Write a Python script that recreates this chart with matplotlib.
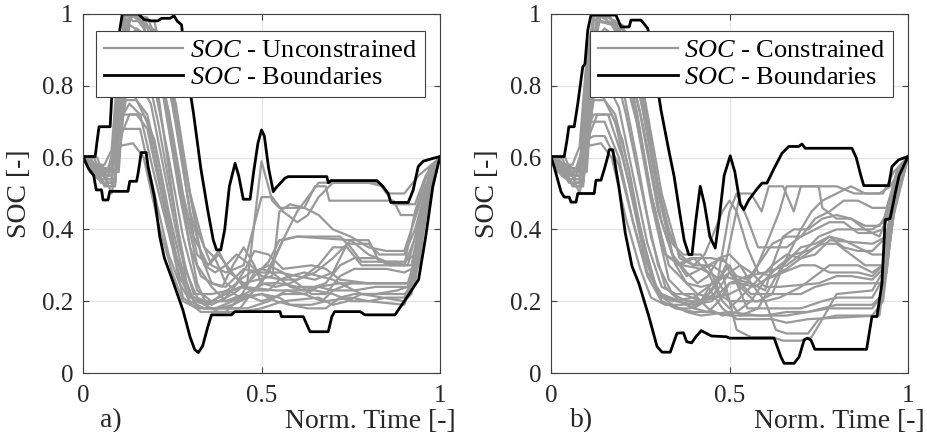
import matplotlib
matplotlib.use("Agg")
import matplotlib.pyplot as plt
from matplotlib.lines import Line2D

plt.rcParams['font.family'] = ['Liberation Serif', 'DejaVu Serif']
plt.rcParams['mathtext.fontset'] = 'custom'
plt.rcParams['mathtext.it'] = 'Liberation Serif:italic'
plt.rcParams['mathtext.rm'] = 'Liberation Serif'

GRAY = '#999999'
BLACK = '#000000'

# ---- panel a) : unconstrained ----
upper_a = [(0, .603), (.034, .603), (.04, .65), (.045, .686), (.076, .686), (.08, .76), (.09, .85), (.103, .955),
           (.11, 1.0), (.155, 1.0), (.17, .985), (.192, .981), (.21, .981), (.22, .988), (.244, .988), (.255, .995),
           (.264, .98), (.276, .97), (.29, .85), (.31, .72), (.33, .57), (.35, .45), (.365, .37), (.374, .343),
           (.386, .343), (.397, .4), (.41, .52), (.426, .584), (.436, .55), (.449, .484), (.468, .484), (.478, .56),
           (.49, .64), (.5, .677), (.508, .66), (.52, .57), (.533, .505), (.54, .515), (.566, .543), (.575, .547),
           (.683, .547), (.687, .53), (.695, .536), (.823, .536), (.84, .52), (.855, .5), (.862, .475), (.911, .475),
           (.925, .51), (.939, .575), (.953, .59), (.981, .598), (1.0, .603)]
lower_a = [(0, .603), (.015, .57), (.03, .55), (.037, .51), (.052, .51), (.056, .482), (.07, .482), (.075, .506),
           (.126, .506), (.131, .534), (.15, .534), (.155, .56), (.163, .614), (.177, .614), (.182, .575),
           (.2, .491), (.215, .38), (.228, .32), (.252, .255), (.28, .175), (.3, .1), (.313, .065), (.323, .057),
           (.335, .075), (.35, .13), (.36, .162), (.416, .162), (.425, .171), (.552, .171), (.556, .157),
           (.617, .157), (.636, .115), (.687, .115), (.697, .157), (.705, .171), (.776, .171), (.79, .162),
           (.874, .162), (.9, .2), (.92, .23), (.94, .26), (.96, .38), (.98, .52), (1.0, .603)]
soc_unconstrained = [
    [(0, .6), (.02, .58), (.05, .58), (.06, .56), (.08, .56), (.1, .78), (.115, 1.0), (.15, 1.0), (.17, .97), (.2, .85),
     (.25, .5), (.29, .25), (.31, .2), (.38, .2), (.42, .22), (.46, .25), (.5, .59), (.53, .48), (.55, .46), (.62, .46),
     (.65, .52), (.68, .52), (.69, .48), (.87, .48), (.89, .44), (.93, .44), (.96, .52), (1, .6)],
    [(0, .6), (.03, .56), (.06, .53), (.09, .53), (.1, .66), (.12, .95), (.14, 1.0), (.17, .96), (.22, .8), (.27, .5),
     (.32, .25), (.35, .18), (.44, .18), (.47, .22), (.5, .25), (.55, .35), (.6, .45), (.66, .53), (.83, .53),
     (.85, .5), (.9, .5), (.94, .55), (1, .6)],
    [(0, .6), (.02, .57), (.05, .55), (.08, .55), (.1, .7), (.13, .75), (.16, .72), (.2, .55), (.25, .35), (.28, .21),
     (.33, .17), (.4, .17), (.43, .2), (.47, .22), (.52, .28), (.56, .37), (.6, .38), (.72, .38), (.75, .35),
     (.78, .31), (.88, .31), (.9, .3), (.93, .45), (.97, .57), (1, .6)],
    [(0, .6), (.04, .6), (.06, .54), (.09, .54), (.11, .8), (.13, .97), (.16, .95), (.2, .9), (.24, .7), (.3, .35),
     (.33, .27), (.36, .25), (.4, .24), (.45, .29), (.5, .28), (.55, .28), (.6, .27), (.65, .26), (.7, .28),
     (.74, .36), (.8, .36), (.83, .33), (.9, .33), (.93, .4), (.98, .58), (1, .6)],
    [(0, .6), (.02, .59), (.05, .57), (.08, .57), (.1, .72), (.15, .72), (.18, .68), (.23, .45), (.27, .27),
     (.3, .21), (.35, .2), (.4, .2), (.45, .22), (.5, .2), (.56, .22), (.62, .22), (.66, .24), (.72, .25), (.91, .25),
     (.94, .35), (.97, .55), (1, .6)],
    [(0, .6), (.03, .55), (.07, .52), (.09, .52), (.11, .85), (.13, 1.0), (.18, .99), (.22, .9), (.26, .7),
     (.31, .38), (.35, .3), (.38, .33), (.41, .29), (.45, .24), (.54, .23), (.65, .23), (.7, .22), (.75, .2),
     (.8, .2), (.85, .21), (.9, .21), (.94, .3), (.97, .5), (1, .6)],
    [(0, .6), (.02, .58), (.04, .56), (.07, .56), (.09, .65), (.11, .68), (.16, .68), (.2, .5), (.24, .33),
     (.27, .25), (.3, .2), (.34, .18), (.38, .18), (.42, .19), (.46, .21), (.5, .22), (.54, .2), (.58, .19),
     (.64, .19), (.68, .2), (.75, .21), (.8, .2), (.9, .19), (.93, .27), (.96, .5), (1, .6)],
    [(0, .6), (.03, .58), (.06, .58), (.08, .62), (.1, .88), (.12, 1.0), (.14, .98), (.2, .98), (.25, .75),
     (.3, .45), (.34, .3), (.37, .28), (.4, .3), (.43, .33), (.47, .3), (.5, .27), (.56, .26), (.6, .26), (.65, .28),
     (.7, .32), (.75, .37), (.8, .37), (.83, .31), (.91, .3), (.94, .42), (.98, .58), (1, .6)],
    [(0, .6), (.02, .57), (.05, .57), (.07, .53), (.09, .53), (.1, .76), (.13, .9), (.17, .88), (.21, .7),
     (.25, .48), (.29, .28), (.32, .21), (.36, .19), (.4, .21), (.44, .26), (.47, .28), (.5, .29), (.53, .28),
     (.58, .24), (.62, .23), (.68, .25), (.72, .3), (.76, .32), (.82, .32), (.86, .3), (.92, .3), (.95, .45),
     (.98, .58), (1, .6)],
    [(0, .6), (.04, .57), (.07, .55), (.09, .6), (.11, .9), (.13, 1.0), (.16, .98), (.21, .95), (.26, .75),
     (.3, .5), (.34, .35), (.37, .32), (.4, .25), (.43, .23), (.47, .26), (.5, .29), (.52, .31), (.55, .37),
     (.6, .38), (.75, .37), (.8, .33), (.85, .31), (.9, .31), (.93, .33), (.96, .52), (1, .6)],
    [(0, .6), (.02, .56), (.05, .54), (.08, .54), (.1, .7), (.12, .8), (.15, .82), (.19, .75), (.23, .55),
     (.27, .35), (.31, .22), (.36, .22), (.41, .23), (.44, .21), (.5, .22), (.55, .21), (.58, .19), (.63, .18),
     (.68, .18), (.72, .21), (.76, .22), (.82, .22), (.88, .23), (.91, .24), (.93, .3), (.97, .55), (1, .6)],
    [(0, .6), (.03, .6), (.05, .56), (.09, .56), (.11, .75), (.14, .95), (.17, .92), (.23, .78), (.28, .48),
     (.32, .3), (.36, .24), (.4, .2), (.44, .21), (.48, .28), (.52, .3), (.56, .28), (.6, .25), (.64, .22),
     (.68, .22), (.72, .27), (.76, .29), (.85, .29), (.9, .28), (.94, .3), (.97, .52), (1, .6)],
    [(0, .6), (.02, .58), (.06, .55), (.08, .55), (.1, .66), (.12, .76), (.15, .76), (.18, .72), (.22, .55),
     (.26, .33), (.3, .19), (.34, .18), (.46, .18), (.52, .2), (.57, .23), (.62, .22), (.67, .2), (.7, .23),
     (.75, .25), (.92, .25), (.95, .45), (1, .6)],
    [(0, .6), (.03, .57), (.05, .53), (.08, .53), (.1, .8), (.12, .98), (.14, 1.0), (.18, .96), (.24, .82),
     (.29, .55), (.33, .33), (.36, .25), (.39, .24), (.42, .3), (.45, .35), (.48, .3), (.5, .25), (.54, .24),
     (.58, .25), (.62, .27), (.66, .3), (.7, .35), (.74, .35), (.78, .3), (.9, .3), (.94, .4), (.98, .58), (1, .6)],
    [(0, .6), (.02, .6), (.04, .57), (.07, .57), (.09, .63), (.14, .64), (.17, .6), (.21, .42), (.25, .28),
     (.28, .2), (.32, .18), (.37, .18), (.42, .2), (.47, .23), (.51, .25), (.55, .25), (.6, .24), (.66, .24),
     (.7, .23), (.76, .23), (.82, .24), (.91, .24), (.94, .36), (.97, .56), (1, .6)],
    [(0, .6), (.03, .58), (.05, .58), (.07, .56), (.1, .56), (.11, .7), (.13, .86), (.16, .86), (.2, .8),
     (.24, .6), (.28, .38), (.32, .23), (.36, .2), (.4, .22), (.44, .24), (.48, .23), (.52, .23), (.55, .26),
     (.58, .27), (.62, .28), (.66, .27), (.7, .26), (.74, .24), (.78, .22), (.84, .21), (.9, .2), (.92, .22),
     (.95, .4), (1, .6)],
    [(0, .6), (.02, .57), (.04, .57), (.06, .52), (.08, .52), (.1, .74), (.12, .92), (.15, .96), (.19, .93),
     (.24, .73), (.28, .5), (.32, .33), (.35, .3), (.38, .34), (.41, .28), (.45, .25), (.49, .26), (.53, .27),
     (.55, .45), (.58, .47), (.62, .46), (.66, .44), (.7, .4), (.75, .38), (.8, .35), (.85, .34), (.9, .34),
     (.94, .46), (.98, .58), (1, .6)],
    [(0, .6), (.04, .58), (.07, .54), (.09, .54), (.11, .67), (.13, .72), (.17, .72), (.2, .65), (.24, .45),
     (.28, .28), (.31, .2), (.35, .19), (.39, .22), (.43, .25), (.46, .3), (.48, .34), (.52, .33), (.56, .29),
     (.64, .3), (.68, .29), (.72, .26), (.8, .25), (.92, .25), (.96, .5), (1, .6)],
    [(0, .6), (.02, .59), (.05, .56), (.08, .56), (.1, .84), (.12, 1.0), (.16, 1.0), (.2, .94), (.24, .86),
     (.28, .6), (.32, .4), (.36, .3), (.4, .28), (.45, .3), (.5, .49), (.53, .49), (.56, .45), (.6, .42),
     (.63, .44), (.66, .49), (.7, .53), (.8, .53), (.84, .52), (.87, .47), (.93, .47), (.96, .55), (1, .6)],
    [(0, .6), (.03, .55), (.06, .55), (.08, .5), (.1, .6), (.12, .78), (.14, .78), (.18, .7), (.22, .52),
     (.26, .33), (.3, .22), (.34, .19), (.38, .17), (.44, .17), (.5, .18), (.56, .2), (.66, .21), (.7, .19),
     (.74, .2), (.78, .22), (.9, .22), (.93, .25), (.96, .45), (1, .6)],
]

# ---- panel b) : constrained ----
upper_b = [(0, .603), (.037, .603), (.045, .65), (.05, .686), (.065, .686), (.075, .75), (.089, .853), (.095, .86),
           (.103, .955), (.112, .997), (.182, .997), (.196, .964), (.219, .964), (.224, .983), (.252, .983),
           (.271, .96), (.29, .85), (.308, .733), (.33, .62), (.345, .547), (.36, .45), (.373, .37), (.386, .33),
           (.395, .33), (.405, .42), (.418, .52), (.43, .47), (.445, .38), (.46, .348), (.47, .42), (.485, .55),
           (.502, .605), (.515, .56), (.53, .47), (.54, .455), (.554, .482), (.575, .51), (.591, .529), (.605, .529),
           (.625, .57), (.647, .612), (.666, .631), (.694, .631), (.703, .638), (.712, .626), (.843, .626),
           (.855, .6), (.866, .557), (.876, .522), (.946, .522), (.955, .575), (.974, .594), (1.0, .603)]
lower_b = [(0, .603), (.01, .57), (.028, .505), (.037, .49), (.051, .49), (.056, .476), (.07, .476), (.075, .5),
           (.121, .5), (.126, .537), (.14, .537), (.15, .57), (.159, .603), (.163, .622), (.173, .622), (.18, .58),
           (.19, .52), (.208, .39), (.227, .297), (.246, .25), (.274, .158), (.297, .074), (.311, .058),
           (.334, .058), (.353, .111), (.371, .112), (.38, .087), (.394, .084), (.405, .1), (.421, .118),
           (.436, .11), (.45, .103), (.492, .101), (.5, .097), (.625, .097), (.644, .045), (.653, .027),
           (.681, .027), (.695, .045), (.709, .092), (.718, .097), (.728, .092), (.739, .066), (.884, .066),
           (.899, .157), (.913, .157), (.927, .25), (.936, .427), (.95, .43), (.964, .5), (.975, .55), (1.0, .603)]
soc_constrained = [
    [(0, .6), (.02, .58), (.05, .57), (.08, .57), (.1, .8), (.12, 1.0), (.16, 1.0), (.2, .93), (.25, .72), (.3, .45),
     (.35, .3), (.39, .32), (.45, .32), (.49, .31), (.53, .5), (.56, .5), (.59, .45), (.61, .52), (.65, .52),
     (.68, .45), (.7, .52), (.8, .52), (.85, .5), (.93, .5), (.96, .56), (1, .6)],
    [(0, .6), (.03, .56), (.06, .53), (.09, .53), (.11, .7), (.13, .9), (.15, .95), (.19, .92), (.24, .7),
     (.28, .48), (.33, .26), (.37, .22), (.42, .2), (.46, .22), (.5, .45), (.52, .5), (.55, .43), (.58, .35),
     (.66, .35), (.7, .38), (.74, .43), (.78, .45), (.82, .48), (.86, .48), (.9, .46), (.94, .46), (.97, .56),
     (1, .6)],
    [(0, .6), (.02, .57), (.05, .55), (.08, .55), (.1, .68), (.12, .72), (.16, .72), (.2, .6), (.25, .4),
     (.3, .22), (.35, .2), (.4, .19), (.45, .2), (.5, .25), (.55, .27), (.6, .28), (.66, .3), (.7, .33),
     (.75, .38), (.8, .4), (.9, .4), (.93, .42), (.97, .56), (1, .6)],
    [(0, .6), (.04, .6), (.06, .55), (.09, .55), (.11, .82), (.13, .98), (.17, .97), (.21, .9), (.26, .68),
     (.31, .42), (.35, .3), (.38, .25), (.42, .24), (.46, .25), (.5, .3), (.53, .24), (.57, .2), (.6, .2),
     (.64, .21), (.7, .24), (.74, .27), (.78, .3), (.86, .3), (.9, .28), (.93, .3), (.97, .56), (1, .6)],
    [(0, .6), (.02, .59), (.05, .56), (.08, .56), (.1, .65), (.12, .66), (.15, .66), (.19, .58), (.23, .42),
     (.27, .27), (.31, .2), (.35, .18), (.4, .17), (.45, .17), (.5, .16), (.6, .16), (.66, .17), (.72, .17),
     (.78, .18), (.9, .18), (.93, .22), (.96, .48), (1, .6)],
    [(0, .6), (.03, .55), (.07, .52), (.09, .52), (.11, .75), (.13, .95), (.14, 1.0), (.18, .98), (.22, .9),
     (.26, .72), (.3, .5), (.34, .33), (.38, .27), (.42, .29), (.45, .3), (.48, .28), (.52, .12), (.56, .1),
     (.62, .1), (.65, .09), (.7, .09), (.73, .1), (.76, .15), (.8, .22), (.9, .23), (.94, .3), (.98, .58), (1, .6)],
    [(0, .6), (.02, .58), (.04, .56), (.07, .56), (.09, .62), (.11, .7), (.15, .7), (.19, .6), (.23, .42),
     (.27, .28), (.31, .22), (.36, .2), (.4, .18), (.43, .2), (.46, .25), (.5, .28), (.53, .25), (.56, .22),
     (.7, .22), (.74, .24), (.78, .25), (.93, .25), (.96, .45), (1, .6)],
    [(0, .6), (.03, .58), (.06, .58), (.08, .63), (.1, .88), (.12, 1.0), (.14, .98), (.2, .97), (.26, .78),
     (.31, .5), (.36, .32), (.4, .3), (.44, .3), (.48, .32), (.52, .27), (.55, .26), (.58, .3), (.62, .36),
     (.66, .38), (.7, .38), (.74, .4), (.78, .42), (.82, .42), (.86, .39), (.9, .39), (.93, .4), (.97, .57),
     (1, .6)],
    [(0, .6), (.02, .57), (.05, .57), (.07, .53), (.09, .53), (.1, .74), (.13, .9), (.17, .88), (.21, .72),
     (.26, .48), (.3, .3), (.34, .22), (.38, .2), (.42, .2), (.46, .24), (.49, .3), (.52, .25), (.55, .18),
     (.7, .18), (.76, .2), (.8, .21), (.9, .21), (.94, .28), (.97, .55), (1, .6)],
    [(0, .6), (.04, .57), (.07, .55), (.09, .6), (.11, .86), (.13, 1.0), (.16, .98), (.21, .95), (.26, .76),
     (.3, .52), (.34, .36), (.37, .33), (.42, .33), (.45, .28), (.48, .2), (.5, .18), (.54, .22), (.58, .26),
     (.62, .3), (.66, .33), (.7, .32), (.74, .35), (.78, .38), (.82, .37), (.86, .35), (.9, .33), (.94, .33),
     (.97, .55), (1, .6)],
    [(0, .6), (.02, .56), (.05, .54), (.08, .54), (.1, .7), (.12, .8), (.15, .82), (.19, .74), (.23, .55),
     (.27, .36), (.31, .24), (.35, .22), (.4, .22), (.44, .18), (.48, .16), (.52, .17), (.56, .2), (.6, .26),
     (.64, .3), (.68, .33), (.72, .34), (.76, .36), (.8, .36), (.84, .33), (.88, .3), (.93, .3), (.96, .5),
     (1, .6)],
    [(0, .6), (.03, .6), (.05, .56), (.09, .56), (.11, .76), (.14, .95), (.17, .92), (.23, .78), (.28, .5),
     (.33, .3), (.37, .26), (.41, .22), (.45, .21), (.48, .25), (.5, .28), (.53, .3), (.56, .28), (.6, .24),
     (.64, .24), (.75, .25), (.8, .27), (.84, .27), (.9, .26), (.94, .3), (.98, .58), (1, .6)],
    [(0, .6), (.02, .58), (.06, .55), (.08, .55), (.1, .66), (.12, .76), (.15, .76), (.18, .72), (.22, .56),
     (.26, .35), (.3, .22), (.34, .2), (.4, .21), (.44, .24), (.48, .18), (.52, .15), (.62, .15), (.66, .14),
     (.72, .15), (.92, .16), (.95, .4), (1, .6)],
    [(0, .6), (.03, .57), (.05, .53), (.08, .53), (.1, .8), (.12, .98), (.14, 1.0), (.18, .96), (.24, .82),
     (.29, .56), (.34, .33), (.38, .28), (.41, .25), (.44, .27), (.47, .32), (.5, .33), (.53, .3), (.56, .25),
     (.6, .23), (.62, .3), (.65, .38), (.68, .4), (.72, .4), (.76, .43), (.8, .44), (.84, .43), (.88, .41),
     (.92, .41), (.95, .46), (.98, .58), (1, .6)],
    [(0, .6), (.02, .6), (.04, .57), (.07, .57), (.09, .63), (.14, .64), (.17, .6), (.21, .43), (.25, .29),
     (.28, .21), (.32, .19), (.37, .19), (.42, .2), (.46, .21), (.5, .22), (.54, .24), (.57, .28), (.6, .35),
     (.64, .45), (.66, .52), (.75, .52), (.76, .46), (.8, .43), (.84, .43), (.88, .4), (.92, .38), (.95, .45),
     (.98, .58), (1, .6)],
    [(0, .6), (.03, .58), (.05, .58), (.07, .56), (.1, .56), (.11, .7), (.13, .86), (.16, .86), (.2, .8),
     (.24, .6), (.28, .38), (.32, .24), (.36, .2), (.4, .18), (.44, .17), (.47, .2), (.5, .25), (.53, .25),
     (.57, .24), (.6, .26), (.65, .28), (.7, .3), (.74, .3), (.78, .28), (.86, .28), (.9, .27), (.93, .3),
     (.96, .52), (1, .6)],
    [(0, .6), (.02, .57), (.04, .57), (.06, .52), (.08, .52), (.1, .74), (.12, .92), (.15, .96), (.19, .93),
     (.24, .73), (.28, .5), (.32, .33), (.36, .3), (.4, .32), (.44, .28), (.47, .22), (.5, .2), (.58, .2),
     (.62, .22), (.65, .3), (.7, .35), (.74, .36), (.78, .38), (.82, .35), (.86, .34), (.9, .34), (.94, .38),
     (.98, .58), (1, .6)],
    [(0, .6), (.04, .58), (.07, .54), (.09, .54), (.11, .67), (.13, .72), (.17, .72), (.2, .65), (.24, .45),
     (.28, .28), (.31, .2), (.35, .18), (.39, .18), (.42, .2), (.45, .25), (.48, .27), (.52, .26), (.56, .25),
     (.6, .2), (.63, .12), (.66, .11), (.72, .11), (.75, .15), (.8, .16), (.9, .16), (.93, .2), (.96, .45),
     (1, .6)],
    [(0, .6), (.02, .59), (.05, .56), (.08, .56), (.1, .84), (.12, 1.0), (.16, 1.0), (.2, .94), (.24, .86),
     (.28, .62), (.32, .42), (.36, .33), (.4, .3), (.43, .33), (.46, .4), (.48, .45), (.5, .48), (.52, .45),
     (.55, .35), (.58, .28), (.62, .27), (.66, .29), (.7, .32), (.74, .33), (.78, .37), (.9, .36), (.94, .38),
     (.97, .56), (1, .6)],
    [(0, .6), (.03, .55), (.06, .55), (.08, .5), (.1, .6), (.12, .78), (.14, .78), (.18, .7), (.22, .52),
     (.26, .33), (.3, .22), (.34, .19), (.38, .17), (.42, .16), (.5, .17), (.58, .16), (.66, .16), (.72, .17),
     (.76, .18), (.8, .19), (.9, .19), (.93, .22), (.96, .48), (1, .6)],
    [(0, .6), (.03, .57), (.06, .56), (.08, .56), (.1, .7), (.12, .88), (.16, .9), (.2, .85), (.24, .7),
     (.28, .5), (.32, .33), (.37, .3), (.42, .29), (.46, .27), (.5, .2), (.53, .16), (.58, .18), (.62, .25),
     (.66, .32), (.7, .4), (.73, .45), (.76, .48), (.8, .5), (.84, .52), (.88, .5), (.92, .5), (.95, .52),
     (1, .6)],
]

panels = [
    (soc_unconstrained, upper_a, lower_a, 'Unconstrained', 'a)'),
    (soc_constrained, upper_b, lower_b, 'Constrained', 'b)'),
]
ax_left = [83 / 927, 551 / 927]
label_right = [456 / 927, 925 / 927]
tag_x = [100 / 927, 570 / 927]

fig = plt.figure(figsize=(9.27, 4.32), dpi=100)

for i, (lines, upper, lower, name, tag) in enumerate(panels):
    ax = fig.add_axes([ax_left[i], 59 / 432, 357 / 927, 359 / 432])
    for line in lines:
        t, s = zip(*line)
        ax.plot(t, s, color=GRAY, lw=1.6, solid_joinstyle='round')
    for bound in (upper, lower):
        t, s = zip(*bound)
        ax.plot(t, s, color=BLACK, lw=2.0, solid_joinstyle='round')

    ax.set_xlim(0, 1)
    ax.set_ylim(0, 1)
    ax.set_xticks([0, 0.5, 1])
    ax.set_xticklabels(['0', '0.5', '1'])
    ax.set_yticks([0, 0.2, 0.4, 0.6, 0.8, 1])
    ax.set_yticklabels(['0', '0.2', '0.4', '0.6', '0.8', '1'])
    ax.tick_params(direction='in', length=4, width=0.8, top=True, right=True,
                   labelsize=18, color='#404040', labelcolor='#262626')
    ax.tick_params(axis='x', pad=9)
    ax.tick_params(axis='y', pad=7)
    ax.grid(True, color='#e3e3e3', lw=0.9)
    ax.set_axisbelow(True)
    for sp in ax.spines.values():
        sp.set_color('#404040')
        sp.set_linewidth(0.8)

    ax.set_ylabel('SOC [-]', fontsize=20, color='#262626')
    ax.yaxis.set_label_coords(-0.143, 0.5)

    handles = [Line2D([], [], color=GRAY, lw=1.6), Line2D([], [], color=BLACK, lw=2.0)]
    leg = ax.legend(handles, [f'$SOC$ - {name}', '$SOC$ - Boundaries'],
                    loc='upper right', bbox_to_anchor=(0.958, 0.953), fontsize=19,
                    handlelength=3.0, handletextpad=0.25, borderpad=0.3, labelspacing=0.12,
                    borderaxespad=0, fancybox=False, framealpha=1)
    leg.get_frame().set_edgecolor('#404040')
    leg.get_frame().set_linewidth(0.8)

    fig.text(label_right[i], 1 - 421 / 432, 'Norm. Time [-]', ha='right', va='center',
             fontsize=20, color='#262626')
    fig.text(tag_x[i], 1 - 421 / 432, tag, ha='left', va='center', fontsize=20, color='#262626')

fig.savefig('out.png', dpi=100)
